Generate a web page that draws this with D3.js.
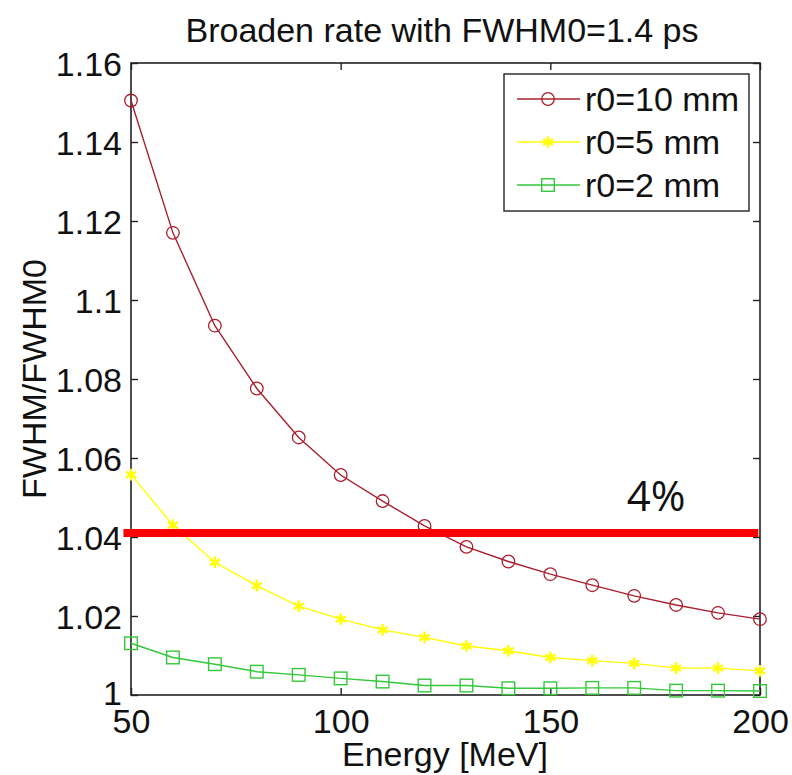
<!DOCTYPE html>
<html>
<head>
<meta charset="utf-8">
<script src="https://cdn.jsdelivr.net/npm/d3@7"></script>
<style>
  html, body { margin: 0; padding: 0; background: #fff; }
  svg { display: block; }
  text { font-family: "Liberation Sans", Arial, Helvetica, sans-serif; fill: #111; }
</style>
</head>
<body>
<svg id="chart" width="792" height="775"></svg>
<script>
// ---- data ----
const energy = [50, 60, 70, 80, 90, 100, 110, 120, 130, 140, 150, 160, 170, 180, 190, 200];
const r10 = [1.1505, 1.1170, 1.0935, 1.0776, 1.0652, 1.0557, 1.0491, 1.0428, 1.0375, 1.0338, 1.0306, 1.0278, 1.0251, 1.0228, 1.0208, 1.0192];
const r5  = [1.0558, 1.0430, 1.0336, 1.0277, 1.0225, 1.0192, 1.0165, 1.0146, 1.0124, 1.0112, 1.0095, 1.0087, 1.0080, 1.0068, 1.0068, 1.0061];
const r2  = [1.0131, 1.0095, 1.0078, 1.0059, 1.0051, 1.0042, 1.0034, 1.0024, 1.0024, 1.0017, 1.0017, 1.0018, 1.0018, 1.0011, 1.0011, 1.0010];
const seriesNames = ["r0=10 mm", "r0=5 mm", "r0=2 mm"];
const xTicks = [50, 100, 150, 200];
const xTickLabels = ["50", "100", "150", "200"];
const yTicks = [1, 1.02, 1.04, 1.06, 1.08, 1.1, 1.12, 1.14, 1.16];
const yTickLabels = ["1", "1.02", "1.04", "1.06", "1.08", "1.1", "1.12", "1.14", "1.16"];
const thresholdValue = 1.041;
const thresholdFrom = 48.2;
const thresholdTo = 199.6;
const thresholdLabel = "4%";
const titleText = "Broaden rate with FWHM0=1.4 ps";
const xLabel = "Energy [MeV]";
const yLabel = "FWHM/FWHM0";

// ---- layout ----
const svg = d3.select("#chart");
const L = 131, R = 760, T = 63, B = 695;
const x = d3.scaleLinear().domain([50, 200]).range([L, R]);
const y = d3.scaleLinear().domain([1, 1.16]).range([B, T]);
const FS = 34;

const series = [
  { name: seriesNames[0], values: r10, color: "#a8202e", marker: "circle" },
  { name: seriesNames[1], values: r5,  color: "#ffff00", marker: "star" },
  { name: seriesNames[2], values: r2,  color: "#33c83a", marker: "square" }
];

// title
svg.append("text").attr("x", 442).attr("y", 42).attr("text-anchor", "middle")
  .style("font-size", FS + "px").text(titleText);

// frame
svg.append("rect").attr("x", L).attr("y", T).attr("width", R - L).attr("height", B - T)
  .attr("fill", "none").attr("stroke", "#222").attr("stroke-width", 1.6);

// axes
const tickLen = 7;
function styleAxis(g) {
  g.select(".domain").remove();
  g.selectAll(".tick line").attr("stroke", "#222").attr("stroke-width", 1.4);
  g.selectAll(".tick text").style("font-size", FS + "px").attr("fill", "#111")
    .style("font-family", '"Liberation Sans", Arial, sans-serif');
}
const gx = svg.append("g").attr("transform", `translate(0,${B})`)
  .call(d3.axisBottom(x).tickValues(xTicks).tickSize(-tickLen).tickPadding(10)
    .tickFormat((d, i) => xTickLabels[i]));
styleAxis(gx);
gx.selectAll(".tick text").attr("dy", "0.71em").attr("y", 14);

svg.append("g").attr("transform", `translate(0,${T})`)
  .call(d3.axisTop(x).tickValues(xTicks).tickSize(-tickLen).tickFormat(""))
  .call(styleAxis);

const gy = svg.append("g").attr("transform", `translate(${L},0)`)
  .call(d3.axisLeft(y).tickValues(yTicks).tickSize(-tickLen).tickPadding(10)
    .tickFormat((d, i) => yTickLabels[i]));
styleAxis(gy);
gy.selectAll(".tick text").attr("x", -9).attr("dy", "0.36em");
// lowest label sits a touch higher so it clears the "50" below it
gy.selectAll(".tick text").filter(d => d === 1).attr("dy", "0.28em");

svg.append("g").attr("transform", `translate(${R},0)`)
  .call(d3.axisRight(y).tickValues(yTicks).tickSize(-tickLen).tickFormat(""))
  .call(styleAxis);

// axis labels
svg.append("text").attr("x", 445).attr("y", 766).attr("text-anchor", "middle")
  .style("font-size", FS + "px").text(xLabel);
svg.append("text").attr("transform", `translate(46,${(T + B) / 2}) rotate(-90)`)
  .attr("text-anchor", "middle").style("font-size", FS + "px").text(yLabel);

// markers
function drawMarker(g, type, color) {
  if (type === "circle") {
    g.append("circle").attr("r", 6.3).attr("fill", "none").attr("stroke", color).attr("stroke-width", 1.3);
  } else if (type === "square") {
    g.append("rect").attr("x", -6.3).attr("y", -6.3).attr("width", 12.6).attr("height", 12.6)
      .attr("fill", "none").attr("stroke", color).attr("stroke-width", 1.4);
  } else {
    g.append("path").attr("d", d3.symbol().type(d3.symbolAsterisk).size(95)())
      .attr("fill", "none").attr("stroke", color).attr("stroke-width", 2.4);
  }
}

const line = d3.line().x((d, i) => x(energy[i])).y(d => y(d)).curve(d3.curveLinear);
series.forEach(s => {
  svg.append("path").datum(s.values).attr("d", line)
    .attr("fill", "none").attr("stroke", s.color).attr("stroke-width", 1.4);
  svg.append("g").selectAll("g").data(s.values).join("g")
    .attr("transform", (d, i) => `translate(${x(energy[i])},${y(d)})`)
    .each(function () { drawMarker(d3.select(this), s.marker, s.color); });
});

// threshold line
svg.append("line").attr("x1", x(thresholdFrom)).attr("x2", x(thresholdTo))
  .attr("y1", y(thresholdValue)).attr("y2", y(thresholdValue))
  .attr("stroke", "#ff0000").attr("stroke-width", 8);
svg.append("text").attr("x", 656).attr("y", 511).attr("text-anchor", "middle")
  .style("font-family", '"Open Sans", "Noto Sans", sans-serif').style("font-size", "42px")
  .text(thresholdLabel);

// legend
const lg = svg.append("g");
lg.append("rect").attr("x", 504).attr("y", 74).attr("width", 245).attr("height", 137)
  .attr("fill", "#fff").attr("stroke", "#222").attr("stroke-width", 1.4);
series.forEach((s, i) => {
  const cy = 99 + i * 43;
  lg.append("line").attr("x1", 517).attr("x2", 580).attr("y1", cy).attr("y2", cy)
    .attr("stroke", s.color).attr("stroke-width", 1.4);
  const mg = lg.append("g").attr("transform", `translate(548,${cy})`);
  drawMarker(mg, s.marker, s.color);
  lg.append("text").attr("x", 585).attr("y", cy).attr("dy", "0.36em")
    .style("font-size", FS + "px").text(s.name);
});
</script>
</body>
</html>
